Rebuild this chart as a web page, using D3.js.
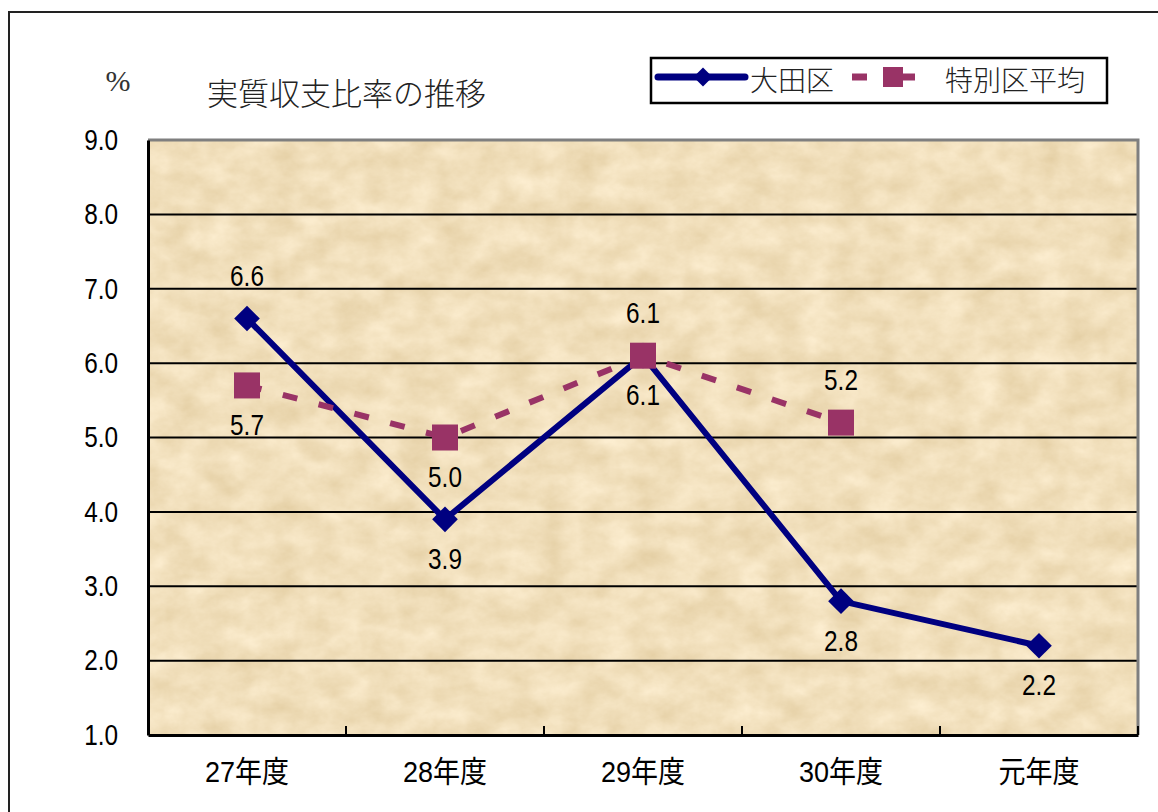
<!DOCTYPE html>
<html>
<head>
<meta charset="utf-8">
<script src="https://cdn.jsdelivr.net/npm/d3@7"></script>
<style>
  body { margin: 0; background: #fff; }
  svg { display: block; }
</style>
</head>
<body>
<div id="chart"></div>
<script>
// --- Data ---
const categories = ["27年度", "28年度", "29年度", "30年度", "元年度"];
const otaValues = [6.6, 3.9, 6.1, 2.8, 2.2];
const avgValues = [5.7, 5.0, 6.1, 5.2, null];
const otaLabelPos = ["above", "below", "below", "below", "below"];
const avgLabelPos = ["below", "below", "above", "above", null];
const yTicks = [1, 2, 3, 4, 5, 6, 7, 8, 9];
const seriesNames = ["大田区", "特別区平均"];

// --- Dimensions ---
const width = 1158;
const height = 812;
const plot = { left: 148, right: 1138, top: 140, bottom: 735 };
const squeeze = 0.84; // narrow digits like the original

const numFont = "'Liberation Sans', 'Noto Sans CJK JP', sans-serif";
const jpFont = "'Noto Sans CJK JP', sans-serif";

const svg = d3
  .select("#chart")
  .append("svg")
  .attr("width", width)
  .attr("height", height);

// parchment texture
const defs = svg.append("defs");
const filter = defs
  .append("filter")
  .attr("id", "parchment")
  .attr("x", 0)
  .attr("y", 0)
  .attr("width", 1)
  .attr("height", 1)
  .attr("color-interpolation-filters", "sRGB");
filter
  .append("feTurbulence")
  .attr("type", "fractalNoise")
  .attr("baseFrequency", "0.03 0.04")
  .attr("numOctaves", 5)
  .attr("seed", 11)
  .attr("result", "noise");
filter
  .append("feColorMatrix")
  .attr("in", "noise")
  .attr("type", "matrix")
  .attr(
    "values",
    "0.11 0 0 0 0.89  0.14 0 0 0 0.805  0.20 0 0 0 0.635  0 0 0 0 1"
  );

// outer border
svg
  .append("rect")
  .attr("x", 9)
  .attr("y", 12)
  .attr("width", width)
  .attr("height", height)
  .attr("fill", "none")
  .attr("stroke", "#222")
  .attr("stroke-width", 2);

// --- Scales ---
const x = d3
  .scaleBand()
  .domain(categories)
  .range([plot.left, plot.right]);

const y = d3
  .scaleLinear()
  .domain([1, 9])
  .range([plot.bottom, plot.top]);

// plot background
svg
  .append("rect")
  .attr("x", plot.left)
  .attr("y", plot.top)
  .attr("width", plot.right - plot.left)
  .attr("height", plot.bottom - plot.top)
  .attr("fill", "#EFDFBC");
svg
  .append("rect")
  .attr("x", plot.left)
  .attr("y", plot.top)
  .attr("width", plot.right - plot.left)
  .attr("height", plot.bottom - plot.top)
  .attr("filter", "url(#parchment)");

// gridlines
svg
  .append("g")
  .selectAll("line")
  .data(yTicks.filter((d) => d > 1 && d < 9))
  .join("line")
  .attr("x1", plot.left)
  .attr("x2", plot.right)
  .attr("y1", (d) => y(d))
  .attr("y2", (d) => y(d))
  .attr("stroke", "#000")
  .attr("stroke-width", 2);

// top & right border (gray)
svg
  .append("path")
  .attr("d", `M${plot.left},${plot.top}H${plot.right}V${plot.bottom}`)
  .attr("fill", "none")
  .attr("stroke", "#7f7f7f")
  .attr("stroke-width", 3);

// y axis
const yAxis = svg
  .append("g")
  .attr("transform", `translate(${plot.left},0)`)
  .call(
    d3
      .axisLeft(y)
      .tickValues(yTicks)
      .tickSize(0)
      .tickPadding(30)
      .tickFormat(d3.format(".1f"))
  );
yAxis.select(".domain").attr("stroke", "#000").attr("stroke-width", 3);
yAxis
  .selectAll("text")
  .attr("font-family", numFont)
  .attr("font-size", 29)
  .attr("fill", "#000")
  .attr("x", -30 / squeeze)
  .attr("transform", `scale(${squeeze},1)`);

// x axis
const bounds = categories.map((c) => x(c)).concat([plot.right]);
const xAxis = svg
  .append("g")
  .attr("transform", `translate(0,${plot.bottom})`)
  .call(d3.axisBottom(x).tickSize(0).tickPadding(26));
xAxis.select(".domain").attr("stroke", "#000").attr("stroke-width", 3);
xAxis
  .selectAll("text")
  .attr("font-family", numFont)
  .attr("font-size", 30)
  .attr("fill", "#000")
  .attr("transform", "scale(0.9,1)");
svg
  .append("g")
  .selectAll("line")
  .data(bounds)
  .join("line")
  .attr("x1", (d) => d)
  .attr("x2", (d) => d)
  .attr("y1", plot.bottom)
  .attr("y2", plot.bottom - 9)
  .attr("stroke", "#000")
  .attr("stroke-width", 2);

const cx = (i) => x(categories[i]) + x.bandwidth() / 2;

// --- Series: 大田区 ---
const otaColor = "#000080";
const avgColor = "#993366";

const line = d3
  .line()
  .defined((d) => d != null)
  .x((d, i) => cx(i))
  .y((d) => y(d));

svg
  .append("path")
  .datum(otaValues)
  .attr("d", line)
  .attr("fill", "none")
  .attr("stroke", otaColor)
  .attr("stroke-width", 6);

const diamond = d3.symbol().type(d3.symbolDiamond2).size(420);
svg
  .append("g")
  .selectAll("path")
  .data(otaValues)
  .join("path")
  .attr("transform", (d, i) => `translate(${cx(i)},${y(d)})`)
  .attr("d", diamond)
  .attr("fill", otaColor);

// --- Series: 特別区平均 ---
svg
  .append("path")
  .datum(avgValues)
  .attr("d", line)
  .attr("fill", "none")
  .attr("stroke", avgColor)
  .attr("stroke-width", 6)
  .attr("stroke-dasharray", "15,22");

svg
  .append("g")
  .selectAll("rect")
  .data(avgValues.map((v, i) => ({ v, i })).filter((d) => d.v != null))
  .join("rect")
  .attr("x", (d) => cx(d.i) - 13)
  .attr("y", (d) => y(d.v) - 13)
  .attr("width", 26)
  .attr("height", 26)
  .attr("fill", avgColor);

// --- Data labels ---
function addLabels(values, pos) {
  svg
    .append("g")
    .selectAll("text")
    .data(values.map((v, i) => ({ v, i, p: pos[i] })).filter((d) => d.v != null))
    .join("text")
    .attr(
      "transform",
      (d) =>
        `translate(${cx(d.i)},${y(d.v) + (d.p === "above" ? -42 : 40)}) scale(${squeeze},1)`
    )
    .attr("text-anchor", "middle")
    .attr("dominant-baseline", "central")
    .attr("font-family", numFont)
    .attr("font-size", 29)
    .attr("fill", "#000")
    .text((d) => d3.format(".1f")(d.v));
}
addLabels(otaValues, otaLabelPos);
addLabels(avgValues, avgLabelPos);

// --- Title & unit ---
svg
  .append("text")
  .attr("x", 118)
  .attr("y", 80)
  .attr("text-anchor", "middle")
  .attr("dominant-baseline", "central")
  .attr("font-family", "'Liberation Serif', serif")
  .attr("font-size", 30)
  .attr("fill", "#333")
  .text("%");

svg
  .append("text")
  .attr("x", 207)
  .attr("y", 91)
  .attr("dominant-baseline", "central")
  .attr("font-family", jpFont)
  .attr("font-weight", 300)
  .attr("font-size", 31)
  .attr("fill", "#222")
  .text("実質収支比率の推移");

// --- Legend ---
const legend = svg.append("g");
legend
  .append("rect")
  .attr("x", 651)
  .attr("y", 58)
  .attr("width", 456)
  .attr("height", 45)
  .attr("fill", "#fff")
  .attr("stroke", "#000")
  .attr("stroke-width", 2.5);
legend
  .append("line")
  .attr("x1", 658)
  .attr("x2", 745)
  .attr("y1", 77)
  .attr("y2", 77)
  .attr("stroke", otaColor)
  .attr("stroke-width", 7)
  .attr("stroke-linecap", "round");
legend
  .append("path")
  .attr("transform", "translate(703,77)")
  .attr("d", d3.symbol().type(d3.symbolDiamond2).size(230))
  .attr("fill", otaColor);
legend
  .append("text")
  .attr("x", 750)
  .attr("y", 79)
  .attr("dominant-baseline", "central")
  .attr("font-family", jpFont)
  .attr("font-weight", 300)
  .attr("font-size", 28)
  .attr("fill", "#222")
  .text(seriesNames[0]);
legend
  .append("line")
  .attr("x1", 852)
  .attr("x2", 867)
  .attr("y1", 77)
  .attr("y2", 77)
  .attr("stroke", avgColor)
  .attr("stroke-width", 7);
legend
  .append("line")
  .attr("x1", 900)
  .attr("x2", 915)
  .attr("y1", 77)
  .attr("y2", 77)
  .attr("stroke", avgColor)
  .attr("stroke-width", 7);
legend
  .append("rect")
  .attr("x", 883)
  .attr("y", 67)
  .attr("width", 20)
  .attr("height", 20)
  .attr("fill", avgColor);
legend
  .append("text")
  .attr("x", 945)
  .attr("y", 79)
  .attr("dominant-baseline", "central")
  .attr("font-family", jpFont)
  .attr("font-weight", 300)
  .attr("font-size", 28)
  .attr("fill", "#222")
  .text(seriesNames[1]);
</script>
</body>
</html>
